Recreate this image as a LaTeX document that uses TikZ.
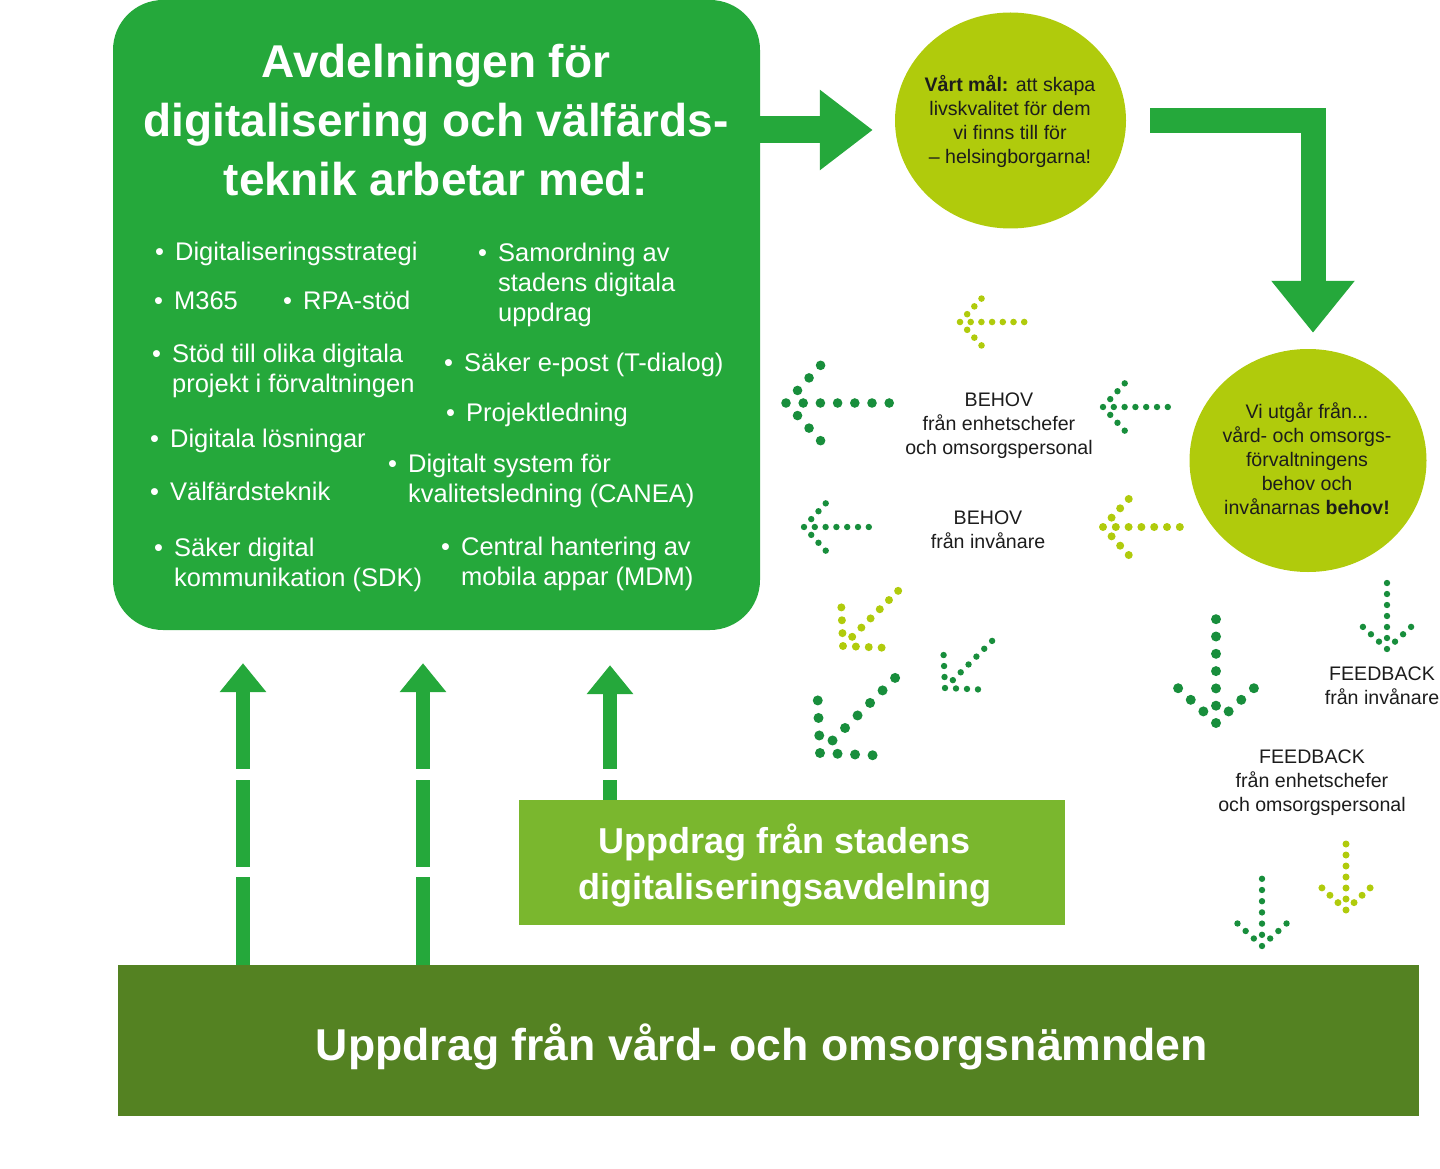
\documentclass[tikz,border=0pt]{standalone}
\usepackage{fontspec}
\setmainfont{Liberation Sans}
\usetikzlibrary{positioning,shapes.geometric,arrows.meta}

\definecolor{bgreen}{RGB}{37,168,59}
\definecolor{lime}{RGB}{176,203,12}
\definecolor{dotdark}{RGB}{24,142,60}
\definecolor{boxlight}{RGB}{122,183,46}
\definecolor{boxdark}{RGB}{84,130,34}
\definecolor{ink}{RGB}{28,28,28}

\tikzset{
  item/.style={inner sep=0pt, anchor=base west, text=white, font={\fontsize{25.5}{30}\selectfont}},
  label/.style={inner sep=0pt, text=ink, font={\fontsize{19.6}{24}\selectfont}},
  blob/.style={ellipse, fill=lime, inner sep=0pt},
  upflow/.style={draw=bgreen, line width=14pt, -{Triangle[width=45pt,length=29pt]}},
  blockflow/.style={draw=bgreen, line join=miter},
}

\newcommand{\bitem}[1]{\begin{tabular}[t]{@{}l@{\hspace{11pt}}l@{}}\textbullet & #1\end{tabular}}
\newcommand{\lines}[1]{\begin{tabular}{@{}c@{}}#1\end{tabular}}
% dotted arrow: tip x, tip y, rotation, spacing, dot radius, colour
\newcommand{\dotarrow}[6]{%
  \begin{scope}[shift={(#1,#2)}, rotate=#3]
    \foreach \i in {0,...,6} \fill[#6] (\i*#4,0) circle[radius=#5];
    \foreach \i in {1,2,3} {
      \fill[#6] (\i*#4*0.67,\i*#4*0.73) circle[radius=#5];
      \fill[#6] (\i*#4*0.67,-\i*#4*0.73) circle[radius=#5];
    }
  \end{scope}}

\begin{document}
\begin{tikzpicture}[x=1pt, y=-1pt]

\useasboundingbox (0,0) rectangle (1440,1169);

% Boxes and circles
\node[fill=bgreen, rounded corners=50pt, minimum width=647pt, minimum height=630pt, inner sep=0pt] (main) at (436.5,315) {};
\node[fill=boxdark, minimum width=1301pt, minimum height=151pt, inner sep=0pt] (nvo) at (768.5,1040.5) {};
\node[fill=boxlight, minimum width=546pt, minimum height=125pt, inner sep=0pt] (sda) at (792,862.5) {};
\node[blob, minimum width=231pt, minimum height=216pt] (goal) at (1010.5,120.5) {};
\node[blob, minimum width=237pt, minimum height=223pt] (need) at (1308,460.5) {};

% Title and list
\node[inner sep=0pt, anchor=base, text=white, font={\fontsize{46}{59}\selectfont\bfseries}] (title) at (436,78)
  {\begin{tabular}[t]{@{}c@{}}Avdelningen för\\digitalisering och välfärds-\\teknik arbetar med:\end{tabular}};

\node[item] (i1) at (155,260) {\bitem{Digitaliseringsstrategi}};
\node[item] (i2) at (154,309) {\bitem{M365}};
\node[item] (i3) at (283,309) {\bitem{RPA-stöd}};
\node[item] (i4) at (152,362) {\bitem{Stöd till olika digitala\\ & projekt i förvaltningen}};
\node[item] (i5) at (150,447) {\bitem{Digitala lösningar}};
\node[item] (i6) at (150,500) {\bitem{Välfärdsteknik}};
\node[item] (i7) at (154,556) {\bitem{Säker digital\\ & kommunikation (SDK)}};
\node[item] (i8) at (478,261) {\bitem{Samordning av\\ & stadens digitala\\ & uppdrag}};
\node[item] (i9) at (444,371) {\bitem{Säker e-post (T-dialog)}};
\node[item] (i10) at (446,421) {\bitem{Projektledning}};
\node[item] (i11) at (388,472) {\bitem{Digitalt system för\\ & kvalitetsledning (CANEA)}};
\node[item] (i12) at (441,555) {\bitem{Central hantering av\\ & mobila appar (MDM)}};

% Circle texts
\node[label] (goaltxt) at (1010,123) {\lines{\textbf{Vårt mål:} att skapa\\livskvalitet för dem\\vi finns till för\\– helsingborgarna!}};
\node[label] (needtxt) at (1307,461.5) {\lines{Vi utgår från...\\vård- och omsorgs-\\förvaltningens\\behov och\\invånarnas \textbf{behov!}}};

% Box texts
\node[inner sep=0pt, text=white, font={\fontsize{36}{46}\selectfont\bfseries}] (sdatxt) at (785,867)
  {\lines{Uppdrag från stadens\\digitaliseringsavdelning}};
\node[inner sep=0pt, text=white, font={\fontsize{44.6}{50}\selectfont\bfseries}] (nvotxt) at (762,1047)
  {Uppdrag från vård- och omsorgsnämnden};

% Flow labels
\node[label] (behov1) at (999,426) {\lines{BEHOV\\från enhetschefer\\och omsorgspersonal}};
\node[label] (behov2) at (988,532) {\lines{BEHOV\\från invånare}};
\node[label] (fb1) at (1382,688) {\lines{FEEDBACK\\från invånare}};
\node[label] (fb2) at (1312,783) {\lines{FEEDBACK\\från enhetschefer\\och omsorgspersonal}};

% Block arrows
\draw[blockflow, line width=27pt, -{Triangle[width=77pt,length=53pt]}, shorten >=22pt]
  ([yshift=185pt]main.east) -- ([yshift=185pt]main.east -| goal.west);
\draw[blockflow, line width=25pt, -{Triangle[width=80pt,length=52pt]}]
  ([xshift=24pt]goal.east) -| ([xshift=5pt,yshift=16pt]need.north);

% Arrows up into the department box
\coordinate (u1) at (243,0);
\coordinate (u2) at (423,0);
\coordinate (u3) at (610,0);
\draw[upflow, shorten >=33pt, dash pattern=on 88pt off 10pt on 87pt off 11pt on 300pt] (u1 |- nvo.north) -- (u1 |- main.south);
\draw[upflow, shorten >=33pt, dash pattern=on 88pt off 10pt on 87pt off 11pt on 300pt] (u2 |- nvo.north) -- (u2 |- main.south);
\draw[upflow, shorten >=35pt, dash pattern=on 20pt off 11pt on 300pt] (u3 |- sda.north) -- (u3 |- main.south);

% Dotted arrows
\dotarrow{960}{322}{0}{10.7}{3.3}{lime}
\dotarrow{786}{403}{0}{17.2}{4.8}{dotdark}
\dotarrow{1103}{407}{0}{10.8}{3.2}{dotdark}
\dotarrow{804}{527}{0}{10.8}{3.2}{dotdark}
\dotarrow{1103}{527}{0}{12.8}{4}{lime}
\dotarrow{843}{646}{45}{13}{4}{lime}
\dotarrow{945}{688}{45}{11.1}{3.2}{dotdark}
\dotarrow{820}{753}{45}{17.7}{5}{dotdark}
\dotarrow{1216}{723}{90}{17.3}{5}{dotdark}
\dotarrow{1387}{649}{90}{11}{3.2}{dotdark}
\dotarrow{1262}{946}{90}{11.2}{3.2}{dotdark}
\dotarrow{1346}{910}{90}{11}{3.5}{lime}

\end{tikzpicture}
\end{document}
